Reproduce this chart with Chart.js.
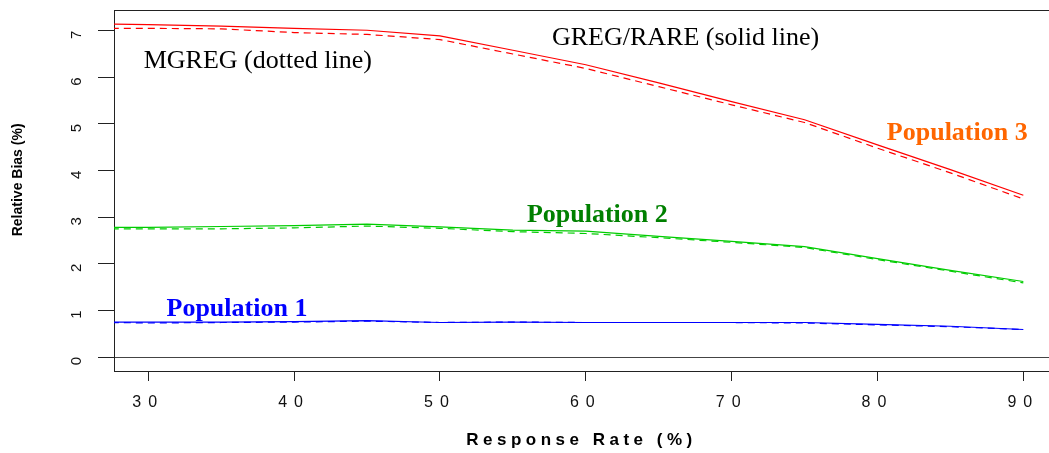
<!DOCTYPE html>
<html>
<head>
<meta charset="utf-8">
<script src="https://cdn.jsdelivr.net/npm/chart.js@4.4.1/dist/chart.umd.min.js"></script>
<style>
  html, body { margin: 0; padding: 0; background: #fff; }
  #wrap { width: 1049px; height: 453px; position: relative; }
</style>
</head>
<body>
<div id="wrap"><canvas id="chart"></canvas></div>
<script>
// response rates (%) and relative bias (%)
var rates = [27.5, 30, 35, 40, 45, 50, 55, 60, 65, 70, 75, 80, 85, 90];

var pop1_greg  = [0.75, 0.75, 0.75, 0.76, 0.78, 0.74, 0.75, 0.74, 0.74, 0.74, 0.74, 0.70, 0.66, 0.59];
var pop1_mgreg = [0.74, 0.73, 0.74, 0.75, 0.77, 0.74, 0.75, 0.74, 0.74, 0.74, 0.73, 0.69, 0.65, 0.59];

var pop2_greg  = [2.78, 2.78, 2.80, 2.82, 2.85, 2.79, 2.72, 2.70, 2.59, 2.48, 2.37, 2.11, 1.86, 1.62];
var pop2_mgreg = [2.75, 2.75, 2.75, 2.77, 2.81, 2.76, 2.69, 2.65, 2.56, 2.46, 2.35, 2.09, 1.84, 1.59];

var pop3_greg  = [7.14, 7.13, 7.10, 7.05, 7.01, 6.89, 6.58, 6.27, 5.88, 5.48, 5.09, 4.55, 4.02, 3.47];
var pop3_mgreg = [7.05, 7.05, 7.04, 6.96, 6.92, 6.81, 6.50, 6.19, 5.80, 5.41, 5.03, 4.48, 3.95, 3.39];

var xTicks = [30, 40, 50, 60, 70, 80, 90];
var yTicks = [0, 1, 2, 3, 4, 5, 6, 7];

// text placed in data units, like text() in R
var notes = [
  { text: 'GREG/RARE (solid line)', x: 66.84, y: 6.69, color: '#000000', bold: false },
  { text: 'MGREG (dotted line)',    x: 37.51, y: 6.19, color: '#000000', bold: false },
  { text: 'Population 3',           x: 85.47, y: 4.66, color: '#FF6600', bold: true },
  { text: 'Population 2',           x: 60.79, y: 2.90, color: '#008000', bold: true },
  { text: 'Population 1',           x: 36.08, y: 0.88, color: '#0000FF', bold: true }
];

function pts(ys) {
  return rates.map(function (r, i) { return { x: r, y: ys[i] }; });
}

function line(label, ys, color, dashed) {
  return {
    label: label,
    data: pts(ys),
    borderColor: color,
    borderWidth: 1.2,
    borderDash: dashed ? [7, 5] : [],
    pointRadius: 0,
    fill: false,
    tension: 0
  };
}

var sans = '"Liberation Sans", Arial, sans-serif';
var serif = '"Liberation Serif", "Times New Roman", serif';

var notesPlugin = {
  id: 'notes',
  afterDatasetsDraw: function (chart) {
    var ctx = chart.ctx, xs = chart.scales.x, ys = chart.scales.y;
    ctx.save();
    ctx.textAlign = 'center';
    ctx.textBaseline = 'alphabetic';
    notes.forEach(function (n) {
      ctx.font = (n.bold ? 'bold ' : '') + '26px ' + serif;
      ctx.fillStyle = n.color;
      ctx.fillText(n.text, xs.getPixelForValue(n.x), ys.getPixelForValue(n.y));
    });
    // y axis title, a little above the middle of the plot as in the original
    ctx.font = 'bold 14px ' + sans;
    ctx.fillStyle = '#000';
    ctx.textBaseline = 'middle';
    ctx.translate(18, ys.getPixelForValue(3.8));
    ctx.rotate(-Math.PI / 2);
    ctx.fillText('Relative Bias (%)', 0, 0);
    ctx.restore();
  }
};

// R drew the x axis text with wide letter spacing
var spacedX = {
  id: 'spacedX',
  afterLayout: function (chart) {
    var s = chart.scales.x;
    if (s._spaced) return;
    s._spaced = true;
    var gaps = { drawLabels: '7px', drawTitle: '4.5px' };
    Object.keys(gaps).forEach(function (name) {
      var orig = s[name];
      s[name] = function () {
        chart.ctx.save();
        chart.ctx.letterSpacing = gaps[name];
        orig.apply(s, arguments);
        chart.ctx.restore();
      };
    });
  }
};

new Chart(document.getElementById('chart'), {
  type: 'line',
  data: {
    datasets: [
      line('Population 3 GREG/RARE', pop3_greg, '#FF0000', false),
      line('Population 3 MGREG', pop3_mgreg, '#FF0000', true),
      line('Population 2 GREG/RARE', pop2_greg, '#00CC00', false),
      line('Population 2 MGREG', pop2_mgreg, '#00CC00', true),
      line('Population 1 GREG/RARE', pop1_greg, '#0000FF', false),
      line('Population 1 MGREG', pop1_mgreg, '#0000FF', true)
    ]
  },
  options: {
    responsive: true,
    maintainAspectRatio: false,
    animation: false,
    layout: { padding: 0 },
    plugins: {
      legend: { display: false },
      tooltip: { enabled: false }
    },
    scales: {
      x: {
        type: 'linear',
        position: 'bottom',
        min: 27.65,
        max: 91.76,
        afterFit: function (s) { s.height = 82; s.paddingLeft = 0; s.paddingRight = 0; },
        afterBuildTicks: function (s) { s.ticks = xTicks.map(function (v) { return { value: v }; }); },
        grid: { drawOnChartArea: false, tickLength: 10, tickColor: '#222', lineWidth: 1 },
        border: { color: '#222', width: 1 },
        ticks: { color: '#111', font: { family: sans, size: 16 }, padding: 12, maxRotation: 0 },
        title: {
          display: true,
          text: 'Response Rate (%)',
          color: '#000',
          font: { family: sans, size: 17, weight: 'bold' },
          padding: { top: 0, bottom: 2 }
        }
      },
      x2: {
        type: 'linear',
        position: 'top',
        afterFit: function (s) { s.height = 10; s.paddingLeft = 0; s.paddingRight = 0; },
        grid: { display: false },
        ticks: { display: false },
        border: { color: '#222', width: 1 }
      },
      y: {
        type: 'linear',
        position: 'left',
        min: -0.30,
        max: 7.444,
        afterFit: function (s) { s.width = 114; s.paddingTop = 0; s.paddingBottom = 0; },
        afterBuildTicks: function (s) { s.ticks = yTicks.map(function (v) { return { value: v }; }); },
        grid: {
          color: function (c) { return c.tick && c.tick.value === 0 ? '#444' : 'rgba(0,0,0,0)'; },
          tickColor: '#222',
          tickLength: 16,
          lineWidth: 1
        },
        border: { color: '#222', width: 1 },
        ticks: { color: '#111', font: { family: sans, size: 15 }, padding: 21, minRotation: 90, maxRotation: 90 }
      }
    }
  },
  plugins: [notesPlugin, spacedX]
});
</script>
</body>
</html>
